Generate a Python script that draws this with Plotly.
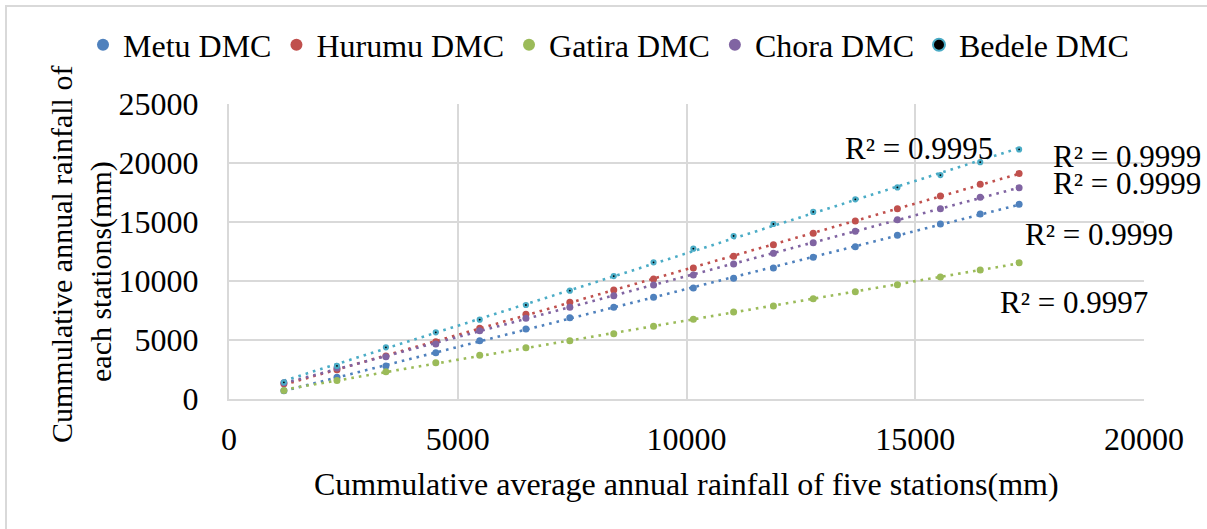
import numpy as np
import plotly.graph_objects as go

# ---- data ----
avg_cum = [1200, 2360, 3430, 4520, 5480, 6490, 7450, 8410, 9280, 10150,
           11030, 11900, 12770, 13690, 14610, 15550, 16420, 17270]

metu = [700, 1850, 2800, 3925, 4940, 5930, 6890, 7770, 8620, 9410,
        10230, 11100, 12010, 12910, 13870, 14830, 15680, 16500]
hurumu = [1300, 2480, 3645, 4860, 5990, 7175, 8190, 9240, 10170, 11100,
          12090, 13080, 14040, 15085, 16130, 17200, 18195, 19120]
gatira = [720, 1560, 2300, 3080, 3700, 4350, 4940, 5535, 6160, 6750,
          7375, 7880, 8500, 9095, 9690, 10340, 10930, 11550]
chora = [1385, 2620, 3585, 4660, 5790, 6835, 7770, 8755, 9660, 10510,
         11440, 12345, 13250, 14210, 15200, 16130, 17090, 17910]
bedele = [1415, 2800, 4380, 5650, 6720, 7965, 9180, 10420, 11585, 12740,
          13815, 14830, 15850, 16920, 17930, 18980, 20070, 21150]

series_names = ["Metu DMC", "Hurumu DMC", "Gatira DMC", "Chora DMC", "Bedele DMC"]
series_vals = [metu, hurumu, gatira, chora, bedele]
colors = ["#4F81BD", "#C0504D", "#9BBB59", "#8064A2", "#4BACC6"]
r2_labels = ["R² = 0.9999", "R² = 0.9999", "R² = 0.9997", "R² = 0.9999", "R² = 0.9995"]
# label offsets (pixels) from the end of each trendline
r2_shift = [(80, -30), (108, 17), (55, -39), (108, 4), (-100, 0)]

x_ticks = [0, 5000, 10000, 15000, 20000]
y_ticks = [0, 5000, 10000, 15000, 20000, 25000]

FONT = "Liberation Serif, Times New Roman, serif"
FS = 32
GRID = "#D9D9D9"

W, H = 1207, 529
L, R, T, B = 229, 1207 - 1144, 104, 529 - 399
PW, PH = W - L - R, H - T - B

fig = go.Figure()
x = np.array(avg_cum, dtype=float)

# trendlines
annotations = []
for name, vals, col, lab, (dx, dy) in zip(series_names, series_vals, colors, r2_labels, r2_shift):
    y = np.array(vals, dtype=float)
    k, b = np.polyfit(x, y, 1)
    xs = [x[0], x[-1]]
    ys = [k * x[0] + b, k * x[-1] + b]
    fig.add_trace(go.Scatter(x=xs, y=ys, mode="lines", showlegend=False, hoverinfo="skip",
                             line=dict(color=col, width=2.6, dash="2.6px,5px")))
    annotations.append(dict(x=xs[1], y=ys[1], xref="x", yref="y", text=lab, showarrow=False,
                            xshift=dx, yshift=dy, xanchor="center", yanchor="middle",
                            font=dict(family=FONT, size=31, color="black")))

# markers
for name, vals, col in zip(series_names, series_vals, colors):
    if name == "Bedele DMC":
        mk = dict(color="black", size=4, line=dict(color=col, width=2.2))
    else:
        mk = dict(color=col, size=7, line=dict(width=0))
    fig.add_trace(go.Scatter(x=avg_cum, y=vals, mode="markers", name=name, marker=mk))

# y-axis title (two lines) and x-axis title as text
annotations.append(dict(text="Cummulative annual rainfall of", textangle=-90, showarrow=False,
                        xref="paper", yref="paper", x=(62 - L) / PW, y=(399 - 255) / PH,
                        xanchor="center", yanchor="middle",
                        font=dict(family=FONT, size=30, color="black")))
annotations.append(dict(text="each stations(mm)", textangle=-90, showarrow=False,
                        xref="paper", yref="paper", x=(101 - L) / PW, y=(399 - 272) / PH,
                        xanchor="center", yanchor="middle",
                        font=dict(family=FONT, size=30, color="black")))
annotations.append(dict(text="Cummulative average annual rainfall of five stations(mm)",
                        showarrow=False, xref="paper", yref="paper",
                        x=(686 - L) / PW, y=(399 - 484) / PH, xanchor="center", yanchor="middle",
                        font=dict(family=FONT, size=FS, color="black")))

fig.update_layout(
    width=W, height=H,
    margin=dict(l=L, r=R, t=T, b=B, pad=0),
    paper_bgcolor="white", plot_bgcolor="white",
    font=dict(family=FONT, size=FS, color="black"),
    showlegend=True,
    legend=dict(orientation="h", x=(83 - L) / PW, y=(399 - 45) / PH, xanchor="left", yanchor="middle",
                font=dict(family=FONT, size=FS, color="black"), bgcolor="rgba(0,0,0,0)",
                itemsizing="constant", tracegroupgap=0),
    xaxis=dict(range=[0, 20000], tickvals=x_ticks, ticktext=[str(v) for v in x_ticks],
               showgrid=True, gridcolor=GRID, gridwidth=1.5, zeroline=False,
               showline=True, linecolor=GRID, linewidth=2, mirror=False,
               ticks="outside", ticklen=11, tickcolor="rgba(0,0,0,0)",
               tickfont=dict(family=FONT, size=FS, color="black"), fixedrange=True),
    yaxis=dict(range=[0, 25000], tickvals=y_ticks, ticktext=[str(v) for v in y_ticks],
               showgrid=True, gridcolor=GRID, gridwidth=1.5, zeroline=False,
               showline=True, linecolor=GRID, linewidth=2,
               ticks="outside", ticklen=22, tickcolor="rgba(0,0,0,0)",
               tickfont=dict(family=FONT, size=FS, color="black"), fixedrange=True),
    annotations=annotations,
    shapes=[dict(type="rect", xref="paper", yref="paper",
                 x0=(6 - L) / PW, x1=(1230 - L) / PW, y0=(399 - 560) / PH, y1=(399 - 6) / PH,
                 line=dict(color=GRID, width=2), fillcolor="rgba(0,0,0,0)", layer="below")],
)

fig.write_html("out.html", config={"displayModeBar": False},
               post_script="document.body.style.margin='0';document.body.style.padding='0';")
